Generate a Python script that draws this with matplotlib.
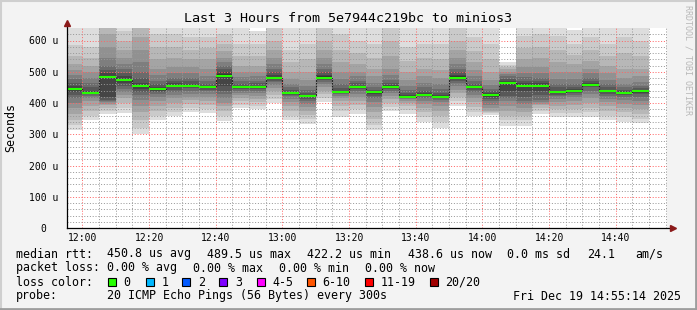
import numpy as np
import pandas as pd
import matplotlib
matplotlib.use('Agg')
import matplotlib.pyplot as plt
import matplotlib.dates as mdates
from matplotlib.patches import Rectangle

# smokeping data, microseconds, one bar per 5 min step
title = "Last 3 Hours from 5e7944c219bc to minios3"
median_us = [445, 433, 484, 474, 453, 444, 456, 456, 450, 488, 450, 450, 481, 431, 421, 481, 434, 450,
             434, 452, 420, 427, 420, 481, 450, 427, 465, 456, 456, 434, 440, 459, 437, 433, 437]
# 20 sorted pings per step (the smoke)
pings_us = [
    [313, 330, 345, 365, 385, 400, 415, 425, 435, 442, 448, 455, 465, 478, 490, 505, 525, 550, 585, 650],
    [345, 360, 375, 390, 405, 415, 422, 428, 432, 433, 435, 440, 450, 465, 480, 500, 520, 545, 580, 650],
    [364, 375, 385, 393, 398, 402, 405, 410, 420, 481, 488, 495, 505, 520, 545, 580, 620, 660, 680, 700],
    [368, 385, 400, 415, 425, 435, 445, 455, 465, 472, 478, 485, 495, 510, 525, 545, 570, 600, 630, 660],
    [302, 320, 345, 370, 390, 410, 425, 435, 445, 451, 456, 465, 480, 500, 530, 570, 610, 650, 680, 700],
    [345, 360, 375, 390, 405, 418, 428, 435, 440, 443, 446, 452, 460, 472, 490, 510, 540, 580, 620, 660],
    [358, 370, 385, 400, 415, 425, 435, 443, 450, 454, 458, 463, 470, 480, 495, 515, 545, 580, 620, 660],
    [372, 385, 398, 410, 420, 430, 440, 447, 452, 455, 457, 462, 470, 480, 495, 515, 540, 570, 610, 650],
    [368, 380, 393, 405, 418, 428, 437, 443, 448, 450, 452, 456, 462, 470, 485, 510, 540, 575, 610, 650],
    [342, 360, 374, 390, 401, 415, 430, 438, 455, 486, 492, 500, 510, 520, 530, 545, 565, 590, 620, 645],
    [385, 395, 405, 415, 425, 433, 440, 445, 448, 450, 452, 456, 462, 470, 482, 498, 520, 550, 590, 640],
    [382, 392, 402, 413, 423, 432, 440, 445, 448, 450, 452, 456, 463, 472, 485, 500, 520, 550, 590, 630],
    [400, 412, 425, 438, 448, 458, 466, 472, 477, 480, 484, 490, 498, 510, 525, 545, 570, 600, 640, 680],
    [345, 360, 375, 390, 403, 413, 421, 427, 430, 431, 433, 436, 441, 450, 462, 478, 500, 530, 570, 640],
    [334, 348, 362, 375, 388, 398, 406, 413, 418, 421, 423, 427, 433, 442, 455, 475, 500, 540, 590, 640],
    [402, 415, 428, 440, 450, 460, 468, 474, 478, 481, 485, 490, 498, 510, 525, 545, 570, 600, 640, 680],
    [355, 375, 392, 405, 415, 422, 428, 432, 434, 435, 436, 440, 448, 460, 478, 500, 530, 570, 620, 680],
    [365, 380, 395, 408, 420, 430, 438, 444, 448, 450, 452, 456, 463, 472, 485, 500, 525, 560, 600, 650],
    [313, 330, 350, 370, 388, 402, 415, 424, 430, 433, 435, 438, 443, 452, 465, 485, 510, 545, 590, 645],
    [375, 388, 400, 412, 423, 432, 440, 446, 450, 452, 454, 458, 465, 475, 490, 510, 550, 600, 650, 690],
    [365, 378, 390, 400, 408, 413, 417, 419, 421, 421, 423, 426, 432, 442, 455, 475, 500, 535, 580, 640],
    [340, 355, 370, 385, 398, 408, 416, 422, 426, 427, 429, 433, 440, 450, 465, 485, 510, 545, 590, 640],
    [320, 340, 358, 375, 390, 402, 410, 416, 419, 421, 423, 427, 433, 445, 460, 480, 505, 540, 590, 650],
    [390, 405, 420, 432, 443, 455, 465, 472, 478, 481, 485, 490, 498, 510, 525, 545, 570, 600, 640, 680],
    [358, 372, 388, 402, 415, 425, 435, 442, 447, 450, 452, 455, 462, 472, 487, 505, 530, 565, 610, 660],
    [362, 368, 372, 376, 385, 395, 405, 412, 420, 427, 429, 432, 437, 445, 458, 475, 500, 540, 590, 650],
    [327, 345, 360, 374, 390, 405, 415, 422, 440, 463, 467, 472, 478, 485, 493, 500, 508, 515, 522, 530],
    [327, 345, 360, 372, 385, 398, 406, 420, 440, 455, 459, 464, 472, 482, 495, 515, 540, 575, 615, 660],
    [365, 375, 385, 393, 398, 403, 410, 425, 440, 455, 459, 463, 470, 480, 495, 515, 545, 580, 620, 660],
    [355, 368, 380, 392, 403, 413, 421, 427, 431, 433, 435, 440, 450, 462, 478, 500, 530, 570, 615, 665],
    [355, 368, 382, 395, 408, 418, 426, 432, 436, 439, 441, 445, 452, 462, 478, 498, 525, 555, 590, 635],
    [355, 370, 385, 400, 415, 428, 440, 450, 455, 458, 460, 464, 470, 480, 495, 510, 535, 570, 610, 650],
    [345, 360, 375, 390, 403, 414, 423, 430, 434, 436, 438, 442, 450, 460, 475, 495, 520, 550, 590, 640],
    [340, 355, 370, 385, 398, 410, 420, 427, 431, 433, 435, 438, 443, 450, 462, 480, 510, 560, 610, 660],
    [335, 350, 365, 380, 395, 408, 420, 428, 433, 436, 438, 441, 447, 455, 467, 485, 510, 550, 600, 650],
]
yticks_us = [0, 100, 200, 300, 400, 500, 600]
ytick_labels = ["0  ", "100 u", "200 u", "300 u", "400 u", "500 u", "600 u"]

legend_rtt = ["450.8 us avg", "489.5 us max", "422.2 us min", "438.6 us now", "0.0 ms sd", "24.1", "am/s"]
legend_loss = ["0.00 % avg", "0.00 % max", "0.00 % min", "0.00 % now"]
loss_labels = ["0", "1", "2", "3", "4-5", "6-10", "11-19", "20/20"]
loss_colors = ["#26ff00", "#00b8ff", "#0059ff", "#7e00ff", "#ff00ff", "#ff5500", "#ff0000", "#a10000"]
probe_text = "20 ICMP Echo Pings (56 Bytes) every 300s"
stamp = "Fri Dec 19 14:55:14 2025"

W, H = 697, 310
mono = "DejaVu Sans Mono"
plt.rcParams['font.family'] = mono

fig = plt.figure(figsize=(W / 100, H / 100), dpi=100, facecolor='#f3f3f3')
ax = fig.add_axes([66.5 / W, (H - 228) / H, 600 / W, 200 / H])
ax.set_facecolor('white')

starts = mdates.date2num(pd.date_range('2025-12-19 11:55', periods=len(median_us), freq='5min'))
step = 5 / 1440.0
pings = np.array(pings_us, dtype=float)

# smoke layers, outer pair lightest -> inner pair darkest
half = pings.shape[1] // 2
for i in range(half):
    g = int(190 / half * (half - 1 - i)) + 50
    lo = pings[:, i]
    hi = pings[:, -1 - i]
    ax.bar(starts, hi - lo, bottom=lo, width=step, align='edge',
           color='#%02x%02x%02x' % (g, g, g), linewidth=0, zorder=1)

edges = np.append(starts, starts[-1] + step)
ax.stairs(median_us, edges, baseline=None, color='#202020', lw=0.8, zorder=2)
ax.hlines(median_us, starts, starts + step, color='#26ff00', lw=1.5, zorder=3)

t0 = pd.Timestamp('2025-12-19 11:55:14')
ax.set_xlim(mdates.date2num(t0), mdates.date2num(t0 + pd.Timedelta(hours=3)))
ax.set_ylim(0, 640)

ax.xaxis.set_major_locator(mdates.MinuteLocator(byminute=[0, 20, 40]))
ax.xaxis.set_minor_locator(mdates.MinuteLocator(byminute=range(0, 60, 5)))
ax.xaxis.set_major_formatter(mdates.DateFormatter('%H:%M'))
ax.set_yticks(yticks_us)
ax.set_yticklabels(ytick_labels)
ax.set_yticks(np.arange(0, 640, 20), minor=True)

ax.grid(which='minor', color=(0.6, 0.6, 0.6, 0.5), lw=0.72, linestyle=(0, (1, 1.8)), zorder=4)
ax.grid(which='major', color=(1.0, 0.4, 0.4, 0.55), lw=0.72, linestyle=(0, (1, 1.8)), zorder=5)
ax.set_axisbelow(False)
ax.tick_params(which='both', length=0)
ax.tick_params(axis='x', labelsize=7, pad=3.5)
ax.tick_params(axis='y', labelsize=7, pad=5.5)
for s in ax.spines.values():
    s.set_visible(False)

# axes with arrow heads like rrdtool
ax.plot([0, 0], [0, 1 + 4 / 200], transform=ax.transAxes, color='black', lw=0.9, clip_on=False, zorder=6)
ax.plot([0, 1 + 3 / 600], [0, 0], transform=ax.transAxes, color='black', lw=0.9, clip_on=False, zorder=6)
ax.plot(0, 1 + 5 / 200, marker='^', ms=4, color='#8b1a1a', transform=ax.transAxes, clip_on=False, zorder=7)
ax.plot(1 + 6 / 600, 0, marker='>', ms=4, color='#8b1a1a', transform=ax.transAxes, clip_on=False, zorder=7)


def ftext(x, y, s, **kw):
    fig.text(x / W, 1 - y / H, s, va='center', **kw)


ftext(348, 19, title, ha='center', fontsize=9.6)
ftext(11, 128, "Seconds", ha='center', rotation=90, fontsize=8.4)
ftext(688, 60, "RRDTOOL / TOBI OETIKER", ha='center', rotation=270, fontsize=6, color='#b8b8b8')

ftext(16, 254, "median rtt:", fontsize=8.4)
for x, s in zip([107.3, 207.3, 306.7, 407.7, 507.3, 586.7, 635.3], legend_rtt):
    ftext(x, 254, s, fontsize=8.4)
ftext(16, 268, "packet loss:", fontsize=8.4)
for x, s in zip([107.3, 193.3, 279.3, 365.3], legend_loss):
    ftext(x, 268, s, fontsize=8.4)
ftext(16, 282, "loss color:", fontsize=8.4)
for bx, lx, s, c in zip([108.3, 145.7, 182.3, 219.3, 256.7, 307, 365.3, 430.3],
                        [123.3, 161.7, 198.3, 235, 272.7, 322.7, 380.7, 445.3],
                        loss_labels, loss_colors):
    fig.add_artist(Rectangle((bx / W, 1 - 286 / H), 8 / W, 8 / H, transform=fig.transFigure,
                             facecolor=c, edgecolor='black', lw=0.8))
    ftext(lx, 282, s, fontsize=8.4)
ftext(16, 296, "probe:", fontsize=8.4)
ftext(107.3, 296, probe_text, fontsize=8.4)
ftext(513.3, 296, stamp, fontsize=8.4)

# shaded frame
fig.add_artist(plt.Line2D([0, 1], [1 - 1 / H, 1 - 1 / H], transform=fig.transFigure, color='#cfcfcf', lw=1.5))
fig.add_artist(plt.Line2D([1 / W, 1 / W], [0, 1], transform=fig.transFigure, color='#cfcfcf', lw=1.5))
fig.add_artist(plt.Line2D([0, 1], [1.5 / H, 1.5 / H], transform=fig.transFigure, color='#9d9d9d', lw=2))
fig.add_artist(plt.Line2D([1 - 1.5 / W, 1 - 1.5 / W], [0, 1], transform=fig.transFigure, color='#9d9d9d', lw=2))

fig.savefig('out.png', dpi=100, facecolor=fig.get_facecolor())
